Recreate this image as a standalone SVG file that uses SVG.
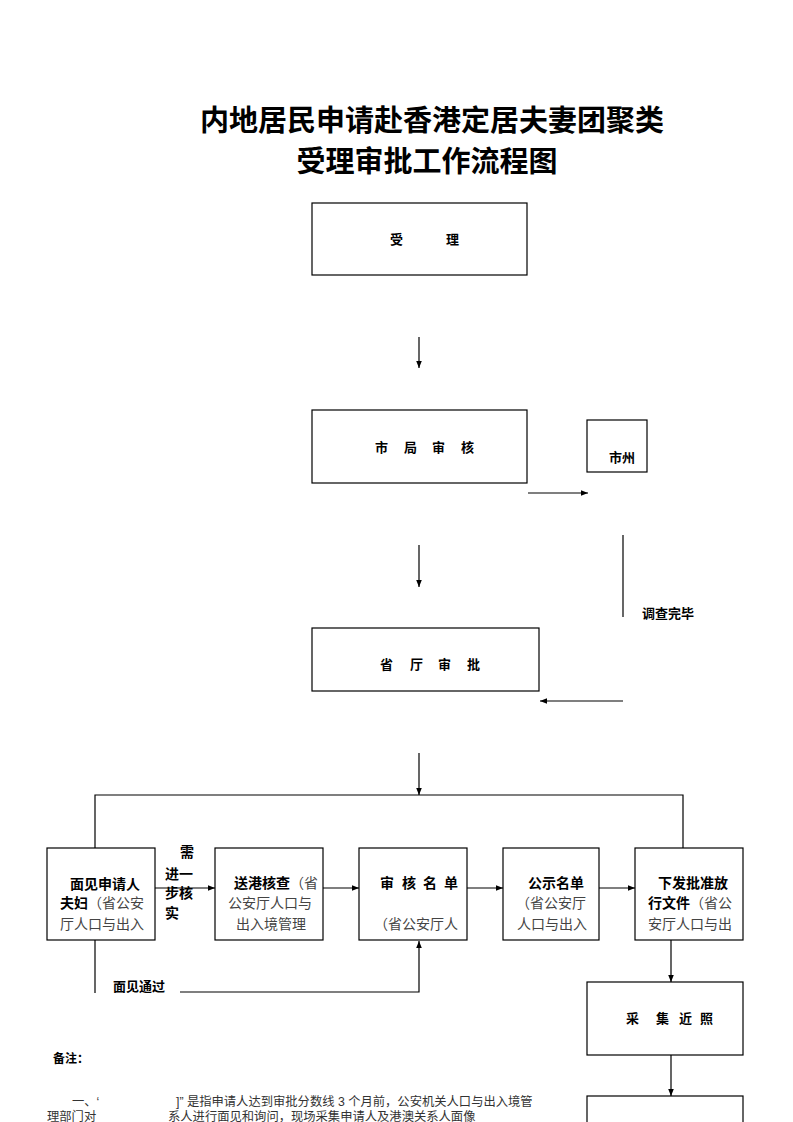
<svg xmlns="http://www.w3.org/2000/svg" width="793" height="1122" viewBox="0 0 793 1122">
<style>
text{font-family:"Liberation Sans","Noto Sans CJK SC",sans-serif;fill:#000}
.t{font-size:29px;font-weight:bold;text-anchor:middle}
.b{font-size:13px;font-weight:bold}
.m{font-size:14px;font-weight:bold}
.n{font-size:14px;fill:#444;font-weight:normal}
.s{font-size:12.3px;fill:#333}
rect{fill:#fff;stroke:#000;stroke-width:1.2}
line,polyline{stroke:#000;stroke-width:1.2;fill:none}
</style>
<defs>
<marker id="a" viewBox="0 0 10 10" refX="10" refY="5" markerWidth="7" markerHeight="7" orient="auto" markerUnits="userSpaceOnUse">
<path d="M0,1 L10,5 L0,9 z" fill="#000"/>
</marker>
</defs>
<rect x="0" y="0" width="793" height="1122" style="stroke:none"/>
<g id="title">
<text class="t" x="432" y="131">内地居民申请赴香港定居夫妻团聚类</text>
<text class="t" x="427" y="172">受理审批工作流程图</text>
</g>
<g id="n1"><rect x="312" y="203" width="215" height="72"/><text class="b" x="390" y="244">受</text><text class="b" x="446" y="244">理</text></g>
<g id="n2"><rect x="312" y="410" width="215" height="73"/><text class="b" x="375 404 432 461" y="452">市局审核</text></g>
<g id="n3"><rect x="587" y="420" width="60" height="52"/><text class="b" x="609" y="462">市州</text></g>
<g id="l1"><text class="b" x="642" y="618">调查完毕</text></g>
<g id="n4"><rect x="312" y="628" width="227" height="63"/><text class="b" x="380 410 438 467" y="669">省厅审批</text></g>
<g id="n5"><rect x="47" y="848" width="108" height="92"/>
<text class="m" x="70" y="889">面见申请人</text>
<text class="m" x="60" y="908">夫妇<tspan class="n">（省公安</tspan></text>
<text class="n" x="60" y="929">厅人口与出入</text></g>
<g id="l2"><text class="m" x="180" y="857">需</text><text class="m" x="165" y="879">进一</text><text class="m" x="165" y="898">步核</text><text class="m" x="165" y="918">实</text></g>
<g id="n6"><rect x="215" y="848" width="108" height="92"/>
<text class="m" x="234" y="888">送港核查<tspan class="n">（省</tspan></text>
<text class="n" x="228" y="908">公安厅人口与</text>
<text class="n" x="236" y="929">出入境管理</text></g>
<g id="n7"><rect x="359" y="848" width="108" height="92"/>
<text class="m" x="380 402 423 444" y="888">审核名单</text>
<text class="n" x="374" y="929">（省公安厅人</text></g>
<g id="n8"><rect x="503" y="848" width="96" height="92"/>
<text class="m" x="528" y="888">公示名单</text>
<text class="n" x="516" y="908">（省公安厅</text>
<text class="n" x="517" y="929">人口与出入</text></g>
<g id="n9"><rect x="635" y="848" width="108" height="92"/>
<text class="m" x="658" y="888">下发批准放</text>
<text class="m" x="648" y="908">行文件<tspan class="n">（省公</tspan></text>
<text class="n" x="648" y="929">安厅人口与出</text></g>
<g id="n10"><rect x="587" y="982" width="156" height="73"/><text class="b" x="626 656 679 700" y="1023">采集近照</text></g>
<g id="n11"><rect x="587" y="1096" width="156" height="40"/></g>
<g id="l3"><text class="b" x="113" y="991">面见通过</text></g>
<g id="notes">
<text class="b" x="53" y="1063" style="font-size:12px">备注：</text>
<text class="s" x="72" y="1106">一、‘</text>
<text class="s" x="176" y="1106">]” 是指申请人达到审批分数线 3 个月前，公安机关人口与出入境管</text>
<text class="s" x="47" y="1121">理部门对</text>
<text class="s" x="168" y="1121">系人进行面见和询问，现场采集申请人及港澳关系人面像</text>
</g>
<g id="connectors">
<line x1="419" y1="337" x2="419" y2="368" marker-end="url(#a)"/>
<line x1="528" y1="493" x2="588" y2="493" marker-end="url(#a)"/>
<line x1="419" y1="545" x2="419" y2="587" marker-end="url(#a)"/>
<line x1="623" y1="535" x2="623" y2="617"/>
<line x1="623" y1="701" x2="540" y2="701" marker-end="url(#a)"/>
<line x1="419" y1="753" x2="419" y2="795" marker-end="url(#a)"/>
<polyline points="95,848 95,795 683,795 683,848"/>
<line x1="155" y1="888" x2="215" y2="888" marker-end="url(#a)"/>
<line x1="323" y1="888" x2="359" y2="888" marker-end="url(#a)"/>
<line x1="467" y1="888" x2="503" y2="888" marker-end="url(#a)"/>
<line x1="599" y1="888" x2="635" y2="888" marker-end="url(#a)"/>
<line x1="671" y1="940" x2="671" y2="982" marker-end="url(#a)"/>
<line x1="671" y1="1055" x2="671" y2="1096" marker-end="url(#a)"/>
<line x1="95" y1="940" x2="95" y2="993"/>
<polyline points="180,992 419,992 419,941" marker-end="url(#a)"/>
</g>
</svg>
